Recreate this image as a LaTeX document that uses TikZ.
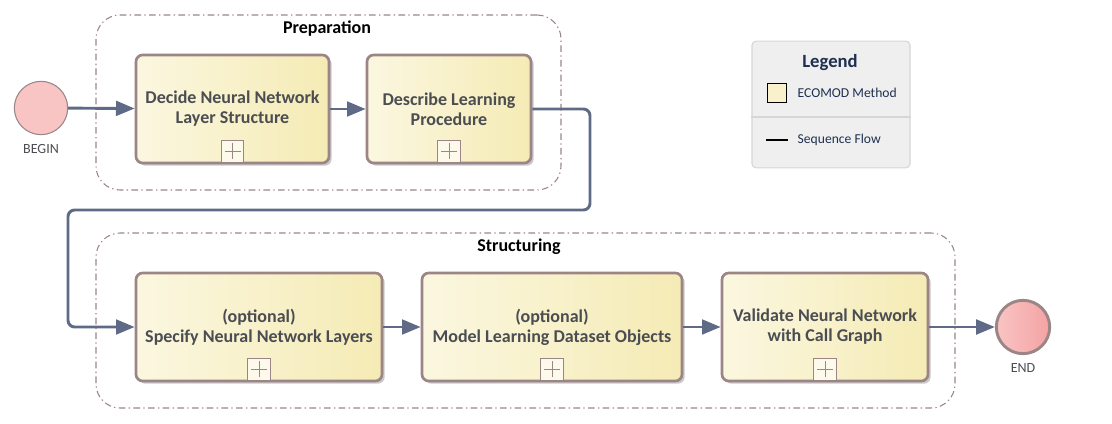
\documentclass[tikz,border=0pt]{standalone}
\usepackage{fontspec}
\setmainfont{Carlito}
\usepackage{tikz}
\usetikzlibrary{arrows.meta}
\usetikzlibrary{positioning}
\usetikzlibrary{shadows}
\definecolor{edgegray}{HTML}{9B8585}
\definecolor{flowblue}{HTML}{5F6B86}
\definecolor{methodA}{HTML}{FBF7E0}
\definecolor{methodB}{HTML}{F5EBB5}
\definecolor{eventA}{HTML}{F9C4C4}
\definecolor{eventB}{HTML}{F4A3A3}
\definecolor{textgray}{HTML}{4B4D52}
\definecolor{legendfill}{HTML}{EFEFEF}
\definecolor{legenddraw}{HTML}{D6D6D6}
\definecolor{legendtext}{HTML}{1F3050}
\tikzset{method/.style = {shape=rectangle,draw=edgegray,line width=2pt,rounded corners=5pt,
    left color=methodA,right color=methodB,
    drop shadow={shadow xshift=2pt,shadow yshift=-2pt,fill=black!35,opacity=0.6},
    align=center,font=\fontsize{13.5}{15}\selectfont\bfseries,text=textgray,minimum height=81pt}}
\tikzset{expand/.style = {shape=rectangle,draw=edgegray,line width=0.6pt,fill=methodA!60,minimum size=17pt,inner sep=0pt,
    path picture={\draw[edgegray,line width=0.6pt]
      ([yshift=-2.5pt]path picture bounding box.north) -- ([yshift=2.5pt]path picture bounding box.south)
      ([xshift=2.5pt]path picture bounding box.west) -- ([xshift=-2.5pt]path picture bounding box.east);}}}
\tikzset{event/.style = {shape=circle,draw=edgegray,minimum size=40pt,inner sep=0pt}}
\tikzset{eventlabel/.style = {text=textgray,font=\fontsize{10.5}{12}\selectfont}}
\tikzset{group/.style = {shape=rectangle,draw=edgegray,line width=0.8pt,rounded corners=18pt,
    dash pattern=on 5pt off 2.5pt on 1pt off 2.5pt}}
\tikzset{grouptitle/.style = {font=\fontsize{13.5}{15}\selectfont\bfseries,text=black}}
\tikzset{flow/.style = {draw=flowblue,line width=2.2pt,rounded corners=5pt,-{Triangle[length=14pt,width=11pt]}}}
\tikzset{legendbox/.style = {shape=rectangle,draw=legenddraw,fill=legendfill,line width=0.8pt,rounded corners=3pt,
    minimum width=118.5pt,minimum height=95pt}}
\tikzset{legendtext/.style = {text=legendtext,font=\fontsize{10.2}{12}\selectfont}}

\begin{document}
\begin{tikzpicture}[x=0.75pt,y=-0.75pt]
    \useasboundingbox (0,0) rectangle (1112,424);

    % Groups
    \node[group,minimum width=348.75pt,minimum height=131.25pt] (prep) at (328.5,102.5) {};
    \node[grouptitle] (preptitle) at (327,29) {Preparation};
    \node[group,minimum width=644.25pt,minimum height=131.25pt] (struct) at (525.5,320.5) {};
    \node[grouptitle] (structtitle) at (519,247) {Structuring};

    % Events
    \node[event,line width=0.8pt,fill=eventA,label={[eventlabel,label distance=3.5pt]below:BEGIN}] (begin) at (41,108) {};
    \node[event,line width=2.2pt,left color=eventA,right color=eventB,label={[eventlabel,label distance=2.5pt]below:END}] (end) at (1023,327) {};

    % Methods
    \node[method,minimum width=144.75pt] (b1) at (232.5,109) {Decide Neural Network\\Layer Structure};
    \node[method,minimum width=123pt] (b2) at (449,109) {Describe Learning\\Procedure};
    \node[method,minimum width=184.5pt] (b3) at (259,327) {(optional)\\Specify Neural Network Layers};
    \node[method,minimum width=195pt] (b4) at (552,327) {(optional)\\Model Learning Dataset Objects};
    \node[method,minimum width=154.5pt] (b5) at (825,327) {Validate Neural Network\\with Call Graph};

    \node[expand,above=1pt of b1.south] (x1) {};
    \node[expand,above=1pt of b2.south] (x2) {};
    \node[expand,above=1pt of b3.south] (x3) {};
    \node[expand,above=1pt of b4.south] (x4) {};
    \node[expand,above=1pt of b5.south] (x5) {};

    % Flows
    \coordinate (turn1) at (590,210);
    \coordinate (turn2) at (68,210);
    \draw[flow] (begin) -- (b1);
    \draw[flow] (b1) -- (b2);
    \draw[flow] (b2.east) -| (turn1) -- (turn2) |- (b3.west);
    \draw[flow] (b3) -- (b4);
    \draw[flow] (b4) -- (b5);
    \draw[flow] (b5) -- (end);

    % Legend
    \node[legendbox] (legend) at (831,104.5) {};
    \node[text=legendtext,font=\fontsize{14}{16}\selectfont\bfseries] (legendtitle) at (830,63) {Legend};
    \node[shape=rectangle,draw=black,line width=0.8pt,fill=methodB!70,minimum size=14.5pt,inner sep=0pt] (swatch) at (777,93) {};
    \node[legendtext,anchor=west] (swatchtext) at (793,93) {ECOMOD Method};
    \draw[legenddraw,line width=0.8pt] (legend.west |- 0,117) -- (legend.east |- 0,117);
    \coordinate (seqa) at (766,140);
    \coordinate (seqb) at (788,140);
    \draw[line width=2pt] (seqa) -- (seqb);
    \node[legendtext,anchor=west] (seqtext) at (793,140) {Sequence Flow};
\end{tikzpicture}
\end{document}
